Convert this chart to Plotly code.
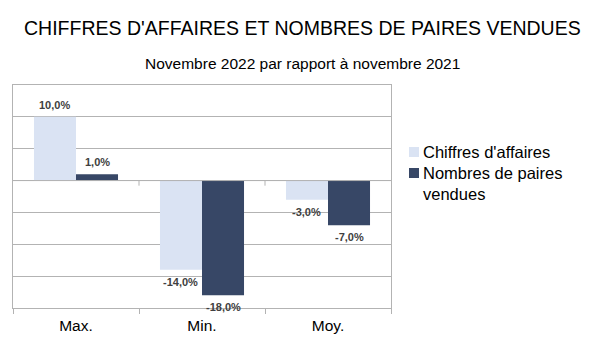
import plotly.graph_objects as go

categories = ["Max.", "Min.", "Moy."]
chiffres_affaires = [10.0, -14.0, -3.0]
paires_vendues = [1.0, -18.0, -7.0]
series_names = ["Chiffres d'affaires", "Nombres de paires<br>vendues"]
series_colors = ["#dae3f3", "#374766"]

y_range = [-20, 15]
grid_color = "#b3b3b3"
font_family = "Liberation Sans, Arial, sans-serif"

W, H = 605, 340
L, R, T, B = 13, 214, 85, 32
plot_w, plot_h = W - L - R, H - T - B
bargap = 0.333
legend_size = 16.5


def fmt(v):
    return f"{v:.1f}%".replace(".", ",")


def px_x(x):
    return (x - L) / plot_w


def px_y(y):
    return (H - B - y) / plot_h


fig = go.Figure()
annotations = []
n_series = 2
cat_px = plot_w / len(categories)
bar_px = cat_px * (1 - bargap) / n_series
for k, (name, vals, color) in enumerate(zip(series_names, [chiffres_affaires, paires_vendues], series_colors)):
    fig.add_trace(go.Bar(
        x=categories, y=vals, name=name,
        marker=dict(color=color, line=dict(width=0)),
        showlegend=False,
    ))
    # value labels just outside the end of each bar
    offset = (k - (n_series - 1) / 2) * bar_px
    for c, v in zip(categories, vals):
        annotations.append(dict(
            text=f"<b>{fmt(v)}</b>", x=c, y=v, xref="x", yref="y",
            xshift=offset, yshift=4 if v >= 0 else -4,
            yanchor="bottom" if v >= 0 else "top", xanchor="center",
            showarrow=False,
            font=dict(family=font_family, size=11, color="#404040"),
        ))

shapes = []
# short tick marks on the zero line at the category boundaries
for i in range(1, len(categories)):
    shapes.append(dict(
        type="line", xref="x", yref="y", x0=i - 0.5, x1=i - 0.5,
        y0=0, y1=-0.8, line=dict(color=grid_color, width=1),
    ))
shapes.append(dict(
    type="line", xref="paper", yref="y", x0=0, x1=1, y0=0, y1=0,
    line=dict(color=grid_color, width=1),
))

# legend: colour squares with their labels (label box tops given in px)
legend_rows = [(147, 140.5), (168, 162)]
for (sq_top, text_top), name, color in zip(legend_rows, series_names, series_colors):
    shapes.append(dict(
        type="rect", xref="paper", yref="paper",
        x0=px_x(409), x1=px_x(419), y0=px_y(sq_top + 10), y1=px_y(sq_top),
        fillcolor=color, line=dict(width=0),
    ))
    annotations.append(dict(
        text=name, xref="paper", yref="paper", x=px_x(421), y=px_y(text_top),
        xanchor="left", yanchor="top", align="left", showarrow=False,
        font=dict(size=legend_size, color="#000000"),
    ))

annotations.append(dict(
    text="CHIFFRES D'AFFAIRES ET NOMBRES DE PAIRES VENDUES",
    xref="paper", yref="paper", x=px_x(W / 2), y=px_y(28),
    xanchor="center", yanchor="middle", showarrow=False,
    font=dict(size=19.5, color="#000000"),
))
annotations.append(dict(
    text="Novembre 2022 par rapport à novembre 2021",
    xref="paper", yref="paper", x=px_x(W / 2), y=px_y(63.5),
    xanchor="center", yanchor="middle", showarrow=False,
    font=dict(size=15.5, color="#000000"),
))

fig.update_layout(
    width=W, height=H,
    margin=dict(l=L, r=R, t=T, b=B, autoexpand=False),
    paper_bgcolor="white", plot_bgcolor="white",
    barmode="group", bargap=bargap, bargroupgap=0,
    font=dict(family=font_family, color="#000000"),
    showlegend=False,
    shapes=shapes,
    annotations=annotations,
)

fig.update_xaxes(
    type="category", tickson="boundaries", ticks="outside", ticklen=5,
    tickcolor=grid_color, showline=True, linecolor=grid_color, mirror=True,
    tickfont=dict(size=15.5, color="#000000"), showgrid=False,
    ticklabelstandoff=3, automargin=False,
)
fig.update_yaxes(
    range=y_range, dtick=5, showticklabels=False, ticks="",
    showgrid=True, gridcolor=grid_color, gridwidth=1, zeroline=False,
    showline=True, linecolor=grid_color, mirror=True, automargin=False,
)

fig.write_html("out.html")
